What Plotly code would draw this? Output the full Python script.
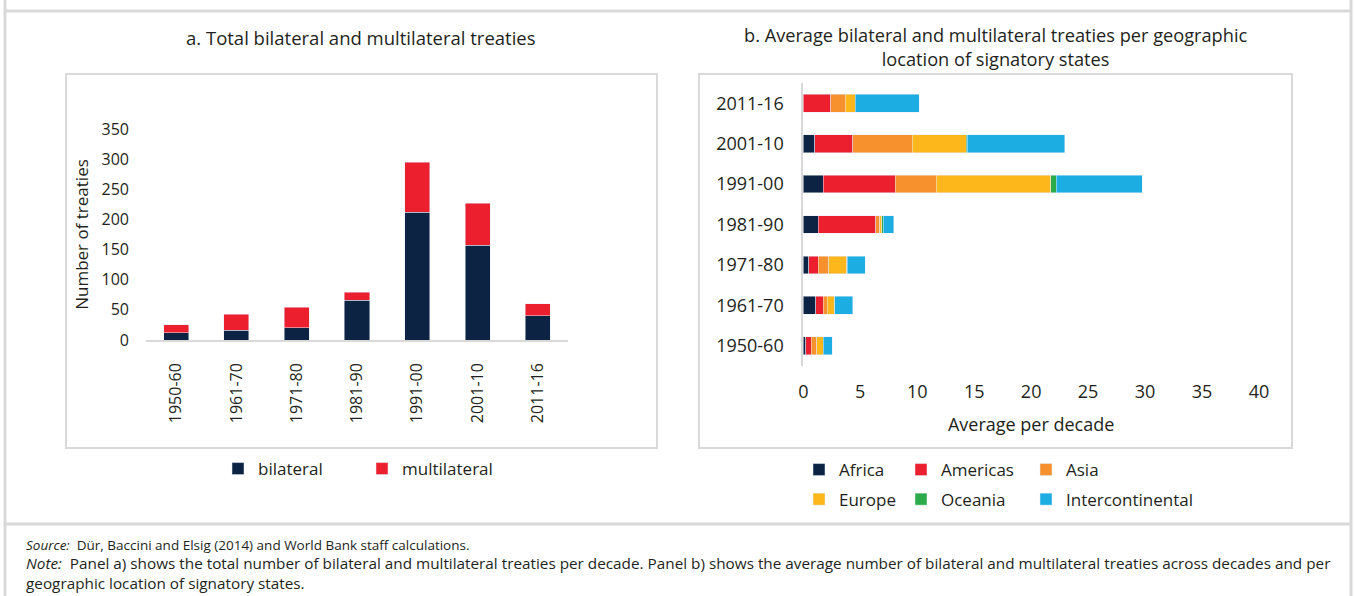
import plotly.graph_objects as go

W, H = 1355, 596

# ---------------- data ----------------
decades = ["1950-60", "1961-70", "1971-80", "1981-90", "1991-00", "2001-10", "2011-16"]
bilateral = [12, 16, 20, 66, 212, 157, 40]
multilateral = [13, 27, 34, 13, 83, 70, 20]

regions = ["Africa", "Americas", "Asia", "Europe", "Oceania", "Intercontinental"]
africa = [0.2, 1.1, 0.5, 1.3, 1.73, 1.0, 0.0]
americas = [0.48, 0.65, 0.82, 5.05, 6.32, 3.35, 2.4]
asia = [0.52, 0.35, 0.9, 0.38, 3.6, 5.2, 1.3]
europe = [0.53, 0.62, 1.58, 0.17, 10.05, 4.75, 0.85]
oceania = [0.0, 0.05, 0.05, 0.12, 0.5, 0.1, 0.0]
intercontinental = [0.79, 1.58, 1.58, 0.94, 7.56, 8.55, 5.65]

y_ticks_a = [0, 50, 100, 150, 200, 250, 300, 350]
x_ticks_b = [0, 5, 10, 15, 20, 25, 30, 35, 40]

title_a = "a. Total bilateral and multilateral treaties"
title_b = "b. Average bilateral and multilateral treaties per geographic<br>location of signatory states"
source_txt = "<i>Source:</i>  Dür, Baccini and Elsig (2014) and World Bank staff calculations."
note_txt = ("<i>Note:</i>  Panel a) shows the total number of bilateral and multilateral treaties per decade. "
            "Panel b) shows the average number of bilateral and multilateral treaties across decades and per"
            "<br>geographic location of signatory states.")

# ---------------- style ----------------
FONT = "Open Sans"
TXT = "#231f20"
GRID = "#d9d9d9"
c_bil, c_mul = "#0c2344", "#ec1f2e"
region_colors = ["#0c2344", "#ec1f2e", "#f7912e", "#fdb71b", "#2bab4a", "#1caee2"]
region_values = [africa, americas, asia, europe, oceania, intercontinental]
region_legend = ["legend2", "legend3", "legend4", "legend2", "legend3", "legend4"]


def fx(px):
    return px / W


def fy(py):
    return 1 - py / H


fig = go.Figure()

# Panel a
fig.add_trace(go.Bar(x=decades, y=bilateral, name="bilateral", marker_color=c_bil,
                     width=0.415, xaxis="x", yaxis="y", legend="legend"))
fig.add_trace(go.Bar(x=decades, y=multilateral, name="multilateral", marker_color=c_mul,
                     width=0.415, xaxis="x", yaxis="y", legend="legend"))

# Panel b
for name, vals, col, lg in zip(regions, region_values, region_colors, region_legend):
    fig.add_trace(go.Bar(y=decades, x=vals, name=name, orientation="h", marker_color=col,
                         width=0.44, xaxis="x2", yaxis="y2", legend=lg, legendgroup=name))

tick_a = dict(family=FONT, size=16, color=TXT)
tick_b = dict(family=FONT, size=18, color=TXT)

shapes = []
box = dict(type="rect", xref="paper", yref="paper", line=dict(color=GRID, width=2),
           fillcolor="rgba(0,0,0,0)", layer="below")
shapes.append(dict(box, x0=fx(66), x1=fx(657), y0=fy(448), y1=fy(74)))
shapes.append(dict(box, x0=fx(699), x1=fx(1292), y0=fy(448), y1=fy(74)))
frame = dict(type="line", xref="paper", yref="paper", line=dict(color=GRID, width=3), layer="below")
shapes.append(dict(frame, x0=fx(5), x1=fx(5), y0=0, y1=1))
shapes.append(dict(frame, x0=fx(1351), x1=fx(1351), y0=0, y1=1))
shapes.append(dict(frame, x0=fx(5), x1=fx(1351), y0=fy(11), y1=fy(11)))
shapes.append(dict(frame, x0=fx(5), x1=fx(1351), y0=fy(524), y1=fy(524)))


def ann(text, x, y, size, xanchor="center", align="center"):
    return dict(text=text, x=fx(x), y=fy(y), xref="paper", yref="paper", showarrow=False,
                xanchor=xanchor, yanchor="middle", align=align,
                font=dict(family=FONT, size=size, color=TXT))


annotations = [
    ann(title_a, 361, 38, 18.5),
    ann(title_b, 995, 47, 18.2),
    ann(source_txt, 24, 545, 13.5, "left", "left"),
    ann(note_txt, 24, 572.5, 15.3, "left", "left"),
]

fig.update_layout(
    width=W, height=H,
    margin=dict(l=0, r=0, t=0, b=0, autoexpand=False),
    paper_bgcolor="white", plot_bgcolor="white",
    barmode="stack",
    font=dict(family=FONT, size=16, color=TXT),
    xaxis=dict(domain=[fx(146), fx(568)], anchor="y", type="category", categoryorder="array",
               categoryarray=decades, tickangle=-90, tickfont=tick_a, showgrid=False,
               showline=True, linecolor=GRID, linewidth=1.5, ticks="", ticklabelstandoff=15,
               fixedrange=True),
    yaxis=dict(domain=[fy(340), fy(129)], anchor="x", range=[0, 350], tickvals=y_ticks_a,
               tickfont=tick_a, showgrid=False, showline=False, zeroline=False, ticks="",
               ticklabelstandoff=16,
               title=dict(text="Number of treaties", font=dict(family=FONT, size=17, color=TXT), standoff=8)),
    xaxis2=dict(domain=[fx(803.3), fx(1259)], anchor="y2", range=[0, 40], tickvals=x_ticks_b,
                tickfont=tick_b, showgrid=False, showline=False, zeroline=False, ticks="",
                ticklabelstandoff=13,
                title=dict(text="Average per decade", font=dict(family=FONT, size=18, color=TXT), standoff=16)),
    yaxis2=dict(domain=[fy(366), fy(83)], anchor="x2", type="category", categoryorder="array",
                categoryarray=decades, tickfont=tick_b, showgrid=False, showline=True,
                linecolor=GRID, linewidth=2, ticks="", ticklabelstandoff=14),
    legend=dict(orientation="h", x=fx(218), y=fy(451), xanchor="left", yanchor="top",
                entrywidth=99, entrywidthmode="pixels", traceorder="normal",
                font=dict(family=FONT, size=17, color=TXT), bgcolor="rgba(0,0,0,0)"),
    legend2=dict(orientation="v", x=fx(799), y=fy(452), xanchor="left", yanchor="top",
                 traceorder="grouped", tracegroupgap=4.5,
                 font=dict(family=FONT, size=17, color=TXT), bgcolor="rgba(0,0,0,0)"),
    legend3=dict(orientation="v", x=fx(901), y=fy(452), xanchor="left", yanchor="top",
                 traceorder="grouped", tracegroupgap=4.5,
                 font=dict(family=FONT, size=17, color=TXT), bgcolor="rgba(0,0,0,0)"),
    legend4=dict(orientation="v", x=fx(1026), y=fy(452), xanchor="left", yanchor="top",
                 traceorder="grouped", tracegroupgap=4.5,
                 font=dict(family=FONT, size=17, color=TXT), bgcolor="rgba(0,0,0,0)"),
    shapes=shapes,
    annotations=annotations,
)

fig.write_html("out.html", config={"displayModeBar": False},
               post_script="document.body.style.margin='0';")
